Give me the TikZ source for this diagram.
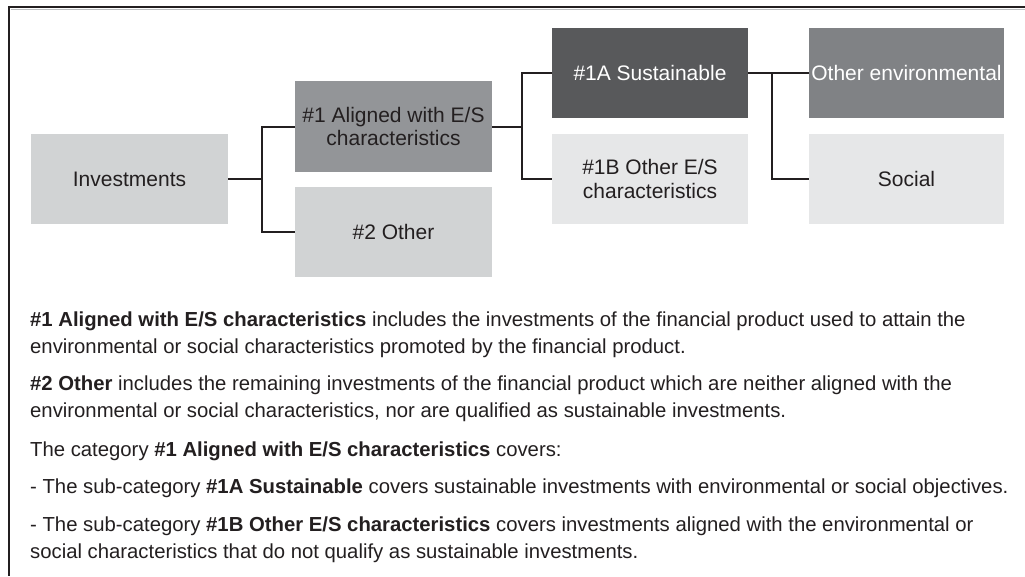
\documentclass[tikz,border=0pt]{standalone}
\usepackage{fontspec}
\setmainfont{Liberation Sans}
\usetikzlibrary{calc}
\definecolor{ink}{HTML}{231F20}
\definecolor{lightA}{HTML}{D1D3D4}
\definecolor{lightB}{HTML}{E6E7E8}
\definecolor{midA}{HTML}{939598}
\definecolor{midB}{HTML}{808285}
\definecolor{darkA}{HTML}{58595B}
\definecolor{frameL}{HTML}{BCBEC0}
\tikzset{
  box/.style={rectangle, inner sep=0pt, minimum width=197pt, minimum height=90pt, align=center,
    text=ink, font=\fontsize{21}{23.5}\selectfont},
  conn/.style={draw=ink, line width=2pt},
  para/.style={anchor=base west, inner sep=0pt, text=ink, font=\fontsize{20.3}{26}\selectfont},
}
\begin{document}
\begin{tikzpicture}[x=1pt,y=-1pt]
\useasboundingbox (0,0) rectangle (1025,576);
\fill[white] (0,0) rectangle (1025,576);
% frame
\draw[frameL, line width=1pt] (10.5,9) -- (1025,9);
\draw[ink, line width=2.2pt] (9,7) -- (1025,7);
\draw[ink, line width=2.2pt] (9,6) -- (9,576);
% boxes
\node[box, fill=lightA] (inv) at (129.5,179) {Investments};
\node[box, fill=midA, minimum height=91pt] (a1) at (393.5,126.5) {\#1 Aligned with E/S\\characteristics};
\node[box, fill=lightA] (o2) at (393.5,232) {\#2 Other};
\node[box, fill=darkA, text=white, minimum width=196pt] (s1a) at (650,73) {\#1A Sustainable};
\node[box, fill=lightB, minimum width=196pt] (s1b) at (650,179) {\#1B Other E/S\\characteristics};
\node[box, fill=midB, text=white, minimum width=195pt] (env) at (906.5,73) {Other environmental};
\node[box, fill=lightB, minimum width=195pt] (soc) at (906.5,179) {Social};
% connectors
\draw[conn] (inv.east) -- ++(34,0) coordinate (j1);
\draw[conn] (a1.west) -| (j1) |- (o2.west);
\draw[conn] (a1.east) -- ++(30,0) coordinate (j2);
\draw[conn] (s1a.west) -| (j2) |- (s1b.west);
\draw[conn] (s1a.east) -- (env.west);
\coordinate (j3) at ($(s1a.east)+(24,0)$);
\draw[conn] (j3) |- (soc.west);
% text
\node[para] (l1) at (30,326) {\textbf{\#1 Aligned with E/S characteristics} includes the investments of the financial product used to attain the};
\node[para] (l2) at (30,353) {environmental or social characteristics promoted by the financial product.};
\node[para] (l3) at (30,390) {\textbf{\#2 Other} includes the remaining investments of the financial product which are neither aligned with the};
\node[para] (l4) at (30,417) {environmental or social characteristics, nor are qualified as sustainable investments.};
\node[para] (l5) at (30,456) {The category \textbf{\#1 Aligned with E/S characteristics} covers:};
\node[para] (l6) at (30,493) {- The sub-category \textbf{\#1A Sustainable} covers sustainable investments with environmental or social objectives.};
\node[para] (l7) at (30,531) {- The sub-category \textbf{\#1B Other E/S characteristics} covers investments aligned with the environmental or};
\node[para] (l8) at (30,558) {social characteristics that do not qualify as sustainable investments.};
\end{tikzpicture}
\end{document}
